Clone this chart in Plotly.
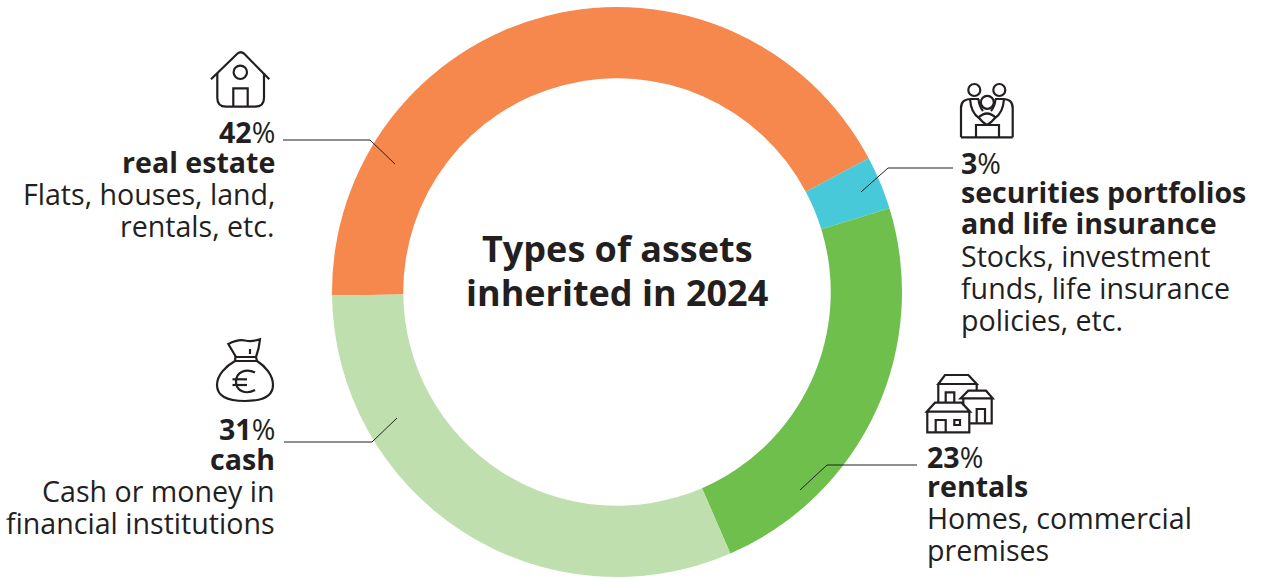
import plotly.graph_objects as go

categories = ["real estate", "securities portfolios and life insurance", "rentals", "cash"]
values = [42, 3, 23, 31]
colors = ["#F6874D", "#48C9D9", "#6FBF4C", "#BFDFAE"]

title_lines = ["Types of assets", "inherited in 2024"]
left_labels = [
    ("<b>42</b>%", 131), ("<b>real estate</b>", 161), ("Flats, houses, land,", 193), ("rentals, etc.", 225),
    ("<b>31</b>%", 428), ("<b>cash</b>", 458), ("Cash or money in", 490), ("financial institutions", 522),
]
right_labels_a = [
    ("<b>3</b>%", 162), ("<b>securities portfolios</b>", 191), ("<b>and life insurance</b>", 222),
    ("Stocks, investment", 255), ("funds, life insurance", 287), ("policies, etc.", 319),
]
right_labels_b = [
    ("<b>23</b>%", 456), ("<b>rentals</b>", 485), ("Homes, commercial", 517), ("premises", 549),
]

W, H = 1261, 579
INK = "#231F20"
FONT = "Open Sans"
BODY = 28.6
TITLE = 36

fig = go.Figure()
fig.add_trace(go.Pie(
    labels=categories, values=values, sort=False, direction="clockwise", rotation=269.3,
    hole=0.75, textinfo="none", hoverinfo="label+value",
    marker=dict(colors=colors, line=dict(width=0)),
    domain=dict(x=[332 / W, 902 / W], y=[1 - 577 / H, 1 - 7 / H]),
    showlegend=False,
))

annotations = []
def txt(s, x, y, size, anchor):
    annotations.append(dict(text=s, x=x, y=y, xref="x", yref="y", xanchor=anchor, yanchor="middle",
                            showarrow=False, align=anchor, borderpad=0,
                            font=dict(family=FONT, size=size, color=INK)))

txt("<b>%s</b>" % title_lines[0], 617, 248, TITLE, "center")
txt("<b>%s</b>" % title_lines[1], 617, 292, TITLE, "center")
for s, y in left_labels:
    txt(s, 276, y, BODY, "right")
for s, y in right_labels_a:
    txt(s, 960, y, BODY, "left")
for s, y in right_labels_b:
    txt(s, 926, y, BODY, "left")

shapes = []
def path(d, width=2.2, color=INK):
    shapes.append(dict(type="path", path=d, xref="x", yref="y", line=dict(color=color, width=width),
                       fillcolor="rgba(0,0,0,0)", layer="above"))
def circle(cx, cy, r, width=2.2):
    shapes.append(dict(type="circle", x0=cx - r, x1=cx + r, y0=cy - r, y1=cy + r, xref="x", yref="y",
                       line=dict(color=INK, width=width), fillcolor="rgba(0,0,0,0)", layer="above"))
def zpath(points, ox, oy, closed=False, width=2.2):
    d = "M" + " L".join("%.1f,%.1f" % (ox + px / 3, oy + py / 3) for px, py in points)
    path(d + (" Z" if closed else ""), width)

# leader lines
for pts in ["M283,140 L370,140 L395,164", "M861,192 L888,168 L953,168",
            "M800,490 L827,465 L917,465", "M284,442 L372,442 L397,418"]:
    path(pts, 1.0)

# house icon
path("M211,79.3 L237.5,53.5 Q240.7,51 244,53.5 L269.3,79.3")
path("M217.3,73 L217.3,98 Q217.3,106.7 226,106.7 L255,106.7 Q264,106.7 264,98 L264,73")
path("M233.3,106.7 L233.3,88.3 L247.7,88.3 L247.7,106.7")
circle(240.3, 72.3, 6.7)

# family icon
circle(974.3, 90, 6)
circle(999.3, 90, 6)
circle(987.3, 102.3, 6.5)
path("M961,137.3 L961,108 Q961,99 971,99 L979,99")
path("M1012.7,137.3 L1012.7,108 Q1012.7,99 1003,99 L995,99")
path("M961,137.3 L1012.7,137.3")
path("M970,99 Q971,113 979,118 Q983,123 987,125")
path("M1004,99 Q1003,113 995,118 Q991,123 987,125")
path("M978.5,99 Q979,106 983,111")
path("M995.5,99 Q995,106 991,111")
path("M978,118 Q987,109 996,118")
path("M976,137.3 L976,125 L999,125 L999,137.3")

# money bag icon
path("M235,361 C226,366 217,375 217,385 C217,396 228,401 245,401 C262,401 273,396 273,385 C273,375 265,366 257,361")
path("M235,361 L257,361 L256,357 L235.5,357 Z")
path("M236,357 L228.3,344 Q238,339 245,340.5 Q252,342 260,339.3 Q259,349 256,357")
path("M250,354 L250,349")
path("M255,372.5 C246,368 236,372 236,381.7 C236,391 246,395 255,390")
path("M232.5,379.3 L247,379.3")
path("M232.5,385 L247,385")

# houses icon
O = (920, 370)
zpath([(55, 42), (75, 15), (145, 15), (170, 42)], *O, closed=True)
zpath([(55, 42), (55, 98)], *O)
zpath([(170, 42), (170, 62)], *O)
zpath([(77, 97), (77, 67), (103, 67), (103, 97)], *O)
zpath([(122, 85), (145, 62), (198, 62), (218, 85)], *O, closed=True)
zpath([(215, 85), (215, 160), (150, 160)], *O)
zpath([(130, 85), (130, 106)], *O)
zpath([(170, 158), (170, 117), (195, 117), (195, 158)], *O)
zpath([(20, 125), (45, 98), (125, 98), (150, 125)], *O, closed=True)
zpath([(22, 125), (22, 187), (148, 187), (148, 125)], *O)
zpath([(47, 187), (47, 150), (77, 150), (77, 187)], *O)
zpath([(103, 150), (120, 150), (120, 165), (103, 165)], *O, closed=True)

fig.update_layout(
    width=W, height=H, margin=dict(l=0, r=0, t=0, b=0),
    paper_bgcolor="white", plot_bgcolor="rgba(0,0,0,0)",
    xaxis=dict(range=[0, W], visible=False, fixedrange=True, domain=[0, 1]),
    yaxis=dict(range=[H, 0], visible=False, fixedrange=True, domain=[0, 1]),
    annotations=annotations, shapes=shapes, showlegend=False,
)
fig.write_html("out.html", config=dict(displayModeBar=False),
               post_script="document.body.style.margin='0';document.body.style.overflow='hidden';")
